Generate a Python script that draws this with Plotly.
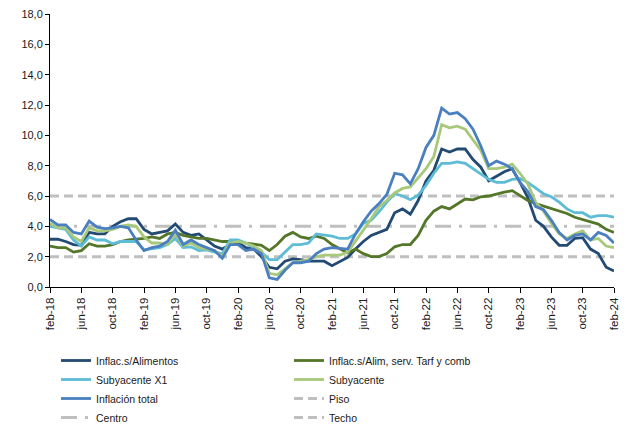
import plotly.graph_objects as go

mes = ["ene", "feb", "mar", "abr", "may", "jun", "jul", "ago", "sep", "oct", "nov", "dic"]
months = []
for yy in range(18, 25):
    for m in mes:
        months.append(f"{m}-{yy}")
months = months[1:1 + 73]  # feb-18 .. feb-24

tick_labels = ["feb-18", "jun-18", "oct-18", "feb-19", "jun-19", "oct-19", "feb-20", "jun-20",
               "oct-20", "feb-21", "jun-21", "oct-21", "feb-22", "jun-22", "oct-22", "feb-23",
               "jun-23", "oct-23", "feb-24"]

inflac_sin_alimentos = [3.15, 3.15, 3.0, 2.8, 2.75, 3.6, 3.5, 3.5, 4.0, 4.3, 4.5, 4.5, 3.8, 3.5, 3.6, 3.7,
                        4.15, 3.6, 3.4, 3.5, 3.1, 2.7, 2.5, 2.8, 2.9, 2.6, 2.5, 2.0, 1.3, 1.2, 1.7, 1.85,
                        1.8, 1.7, 1.7, 1.7, 1.4, 1.7, 1.95, 2.5, 3.0, 3.4, 3.6, 3.8, 4.9, 5.15, 4.8, 5.7,
                        7.0, 7.7, 9.1, 8.9, 9.1, 9.1, 8.4, 7.9, 7.0, 7.3, 7.6, 7.8, 6.9, 5.9, 4.4, 4.0,
                        3.3, 2.75, 2.75, 3.2, 3.25, 2.5, 2.2, 1.3, 1.05]
inflac_sin_alim_serv = [2.7, 2.6, 2.6, 2.3, 2.4, 2.85, 2.7, 2.7, 2.8, 3.0, 3.1, 3.15, 3.2, 3.3, 3.2, 3.5,
                        3.6, 3.4, 3.3, 3.2, 3.2, 3.1, 3.0, 3.0, 3.0, 2.9, 2.8, 2.75, 2.4, 2.8, 3.35, 3.6,
                        3.3, 3.2, 3.35, 3.2, 2.8, 2.5, 2.25, 2.5, 2.2, 2.0, 2.0, 2.2, 2.65, 2.8, 2.8, 3.4,
                        4.4, 5.0, 5.3, 5.15, 5.5, 5.8, 5.75, 5.95, 6.0, 6.15, 6.25, 6.35, 6.05, 5.7, 5.5,
                        5.35, 5.2, 5.0, 4.85, 4.6, 4.45, 4.35, 4.15, 3.8, 3.6]
subyacente_x1 = [4.0, 3.9, 3.8, 3.1, 2.7, 3.3, 3.1, 3.1, 2.85, 3.0, 3.0, 3.0, 2.45, 2.5, 2.6, 2.8,
                 3.2, 2.6, 2.65, 2.4, 2.45, 2.3, 2.2, 3.1, 3.1, 2.9, 2.6, 2.3, 1.8, 1.8, 2.3, 2.8,
                 2.8, 2.9, 3.5, 3.4, 3.35, 3.2, 3.2, 3.5, 4.2, 4.4, 4.95, 5.6, 6.15, 6.0, 5.75, 6.05,
                 6.7, 7.5, 8.15, 8.15, 8.25, 8.15, 7.8, 7.5, 7.1, 6.9, 6.9, 7.1, 7.15, 6.9, 6.5,
                 6.15, 5.95, 5.6, 5.15, 4.9, 4.9, 4.6, 4.7, 4.7, 4.6]
subyacente = [4.2, 3.9, 3.9, 3.3, 3.0, 3.9, 3.7, 3.7, 3.8, 4.0, 4.1, 4.0, 3.3, 2.9, 2.9, 2.8,
              3.5, 2.7, 2.9, 2.6, 2.5, 2.4, 2.0, 2.9, 3.0, 2.9, 2.7, 2.4, 0.9, 0.8, 1.2, 1.6,
              1.7, 1.8, 2.0, 2.1, 2.1, 2.1, 2.3, 3.0, 3.75, 4.5, 5.3, 5.7, 6.2, 6.5, 6.6, 7.2,
              7.8, 8.6, 10.7, 10.5, 10.6, 10.4, 9.7, 9.0, 7.8, 7.8, 7.9, 8.1, 7.5, 6.8, 5.6,
              5.0, 4.2, 3.5, 3.2, 3.5, 3.7, 3.1, 3.2, 2.7, 2.6]
inflacion_total = [4.45, 4.1, 4.1, 3.6, 3.5, 4.35, 3.95, 3.85, 3.9, 4.0, 3.9, 3.1, 2.4, 2.6, 2.7, 3.0,
                   3.75, 2.8, 3.1, 2.8, 2.6, 2.4, 1.9, 2.8, 2.8, 2.4, 2.5, 2.2, 0.6, 0.5, 1.1, 1.6,
                   1.6, 1.7, 2.2, 2.5, 2.6, 2.55, 2.5, 3.5, 4.3, 5.0, 5.5, 6.1, 7.5, 7.4, 6.8, 7.8,
                   9.2, 10.0, 11.8, 11.4, 11.5, 11.1, 10.4, 9.3, 8.0, 8.3, 8.1, 7.8, 6.9, 6.3, 5.3,
                   5.1, 4.4, 3.6, 3.1, 3.4, 3.5, 3.1, 3.6, 3.4, 2.9]
piso = [2.0] * 73
centro = [4.0] * 73
techo = [6.0] * 73

fig = go.Figure()

gray = "#BFBFBF"
ref_lines = [
    ("Piso", piso, "9px,5px", 7),
    ("Centro", centro, "16px,8px,3px,8px", 8),
    ("Techo", techo, "9px,5px", 9),
]
for name, vals, dash, rank in ref_lines:
    fig.add_trace(go.Scatter(x=months, y=vals, name=name, mode="lines",
                             line=dict(color=gray, width=3, dash=dash), legendrank=rank))

series = [
    ("Inflac.s/Alimentos", inflac_sin_alimentos, "#234A72", 1),
    ("Inflac.s/Alim, serv. Tarf y comb", inflac_sin_alim_serv, "#537629", 2),
    ("Subyacente X1", subyacente_x1, "#5DBCD6", 3),
    ("Subyacente", subyacente, "#A8C87A", 4),
    ("Inflación total", inflacion_total, "#4A7FC0", 5),
]
for name, vals, color, rank in series:
    fig.add_trace(go.Scatter(x=months, y=vals, name=name, mode="lines",
                             line=dict(color=color, width=2.8), legendrank=rank))

fig.update_layout(
    width=631, height=426,
    margin=dict(l=42, r=25, t=6, b=147, autoexpand=False),
    plot_bgcolor="white", paper_bgcolor="white",
    separators=",.",
    font=dict(family="Liberation Sans, Arial, sans-serif", size=11, color="#1a1a1a"),
    showlegend=True,
    legend=dict(
        orientation="h", xref="container", yref="container",
        x=48 / 631, xanchor="left", y=(426 - 338) / 426, yanchor="top",
        entrywidth=188, entrywidthmode="pixels", itemwidth=30,
        traceorder="normal", tracegroupgap=0,
        font=dict(family="Liberation Sans Narrow, Liberation Sans, Arial, sans-serif", size=10.5),
        bgcolor="rgba(0,0,0,0)",
    ),
)
fig.update_xaxes(
    type="category", categoryorder="array", categoryarray=months,
    range=[0, 72], automargin=False, ticklabeloverflow="allow",
    tickmode="array", tickvals=tick_labels, ticktext=tick_labels,
    tickangle=-90, ticks="outside", ticklen=5, tickcolor="black",
    showline=True, linecolor="black", linewidth=1,
    showgrid=False, zeroline=False,
    tickfont=dict(size=11.5),
)
fig.update_yaxes(
    range=[0, 18], dtick=2, tickformat=".1f", automargin=False, ticklabeloverflow="allow",
    ticks="outside", ticklen=4, tickcolor="black",
    showline=True, linecolor="black", linewidth=1,
    showgrid=False, zeroline=False,
    tickfont=dict(size=11),
)

fig.write_html("out.html")
